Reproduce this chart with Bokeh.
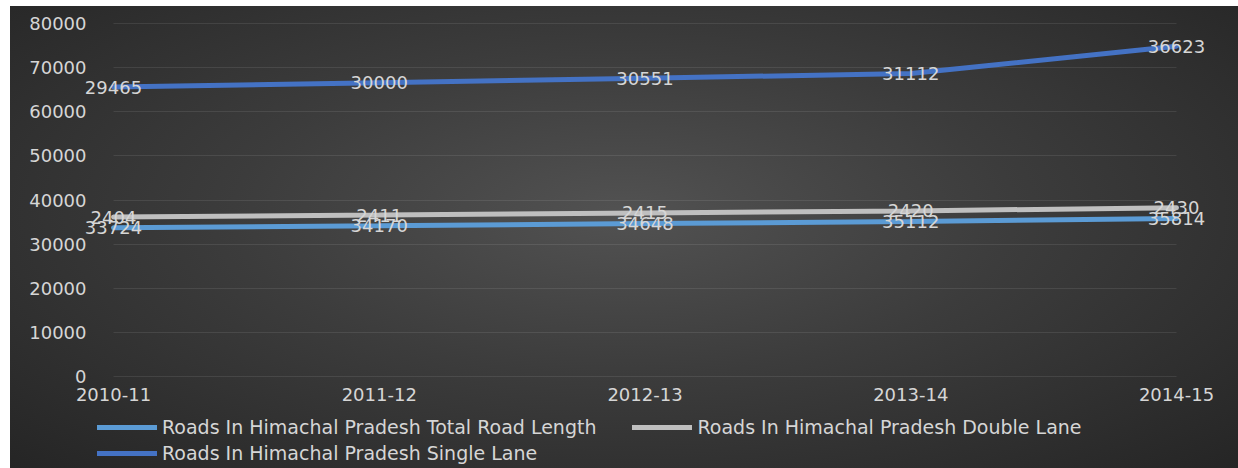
from bokeh.plotting import figure
from bokeh.models import ColumnDataSource, Range1d, FixedTicker, Legend, LegendItem
from bokeh.core.properties import value
from bokeh.embed import file_html
from bokeh.resources import INLINE

years = ["2010-11", "2011-12", "2012-13", "2013-14", "2014-15"]
total_len = [33724, 34170, 34648, 35112, 35814]
double_lane = [2404, 2411, 2415, 2420, 2430]
single_lane = [29465, 30000, 30551, 31112, 36623]
y_ticks = [0, 10000, 20000, 30000, 40000, 50000, 60000, 70000, 80000]

names = ["Roads In Himachal Pradesh Total Road Length",
         "Roads In Himachal Pradesh Double Lane",
         "Roads In Himachal Pradesh Single Lane"]
colors = ["#5B9BD5", "#BFBFBF", "#4472C4"]

xs = list(range(len(years)))
# stacked line chart
s1 = total_len
s2 = [a + b for a, b in zip(s1, double_lane)]
s3 = [a + b for a, b in zip(s2, single_lane)]
series = [(s1, total_len, colors[0]), (s2, double_lane, colors[1]), (s3, single_lane, colors[2])]

FONT = "DejaVu Sans"
TXT = "#D6D6D6"

W, H = 1238, 468
# pixel layout of the plotting area inside the canvas
L, R, T, B = 113, 1176, 23, 376
ppx = (R - L) / (len(years) - 1)
ppy = (B - T) / 80000.0
x_range = Range1d(-L / ppx, (len(years) - 1) + (W - R) / ppx)
y_range = Range1d(-(H - B) / ppy, 80000 + T / ppy)

p = figure(width=W, height=H, output_backend="svg", toolbar_location=None,
           x_range=x_range, y_range=y_range,
           min_border=0, min_border_left=0, min_border_right=0, min_border_top=0, min_border_bottom=0)
p.styles = {
    "background-color": "#ffffff",
    "background-image": "radial-gradient(ellipse at 50% 45%, #525252 0%, #3c3c3c 45%, #252525 100%)",
    "background-position": "10px 6px",
    "background-size": "calc(100% - 10px) calc(100% - 6px)",
    "background-repeat": "no-repeat",
}
p.background_fill_alpha = 0
p.border_fill_alpha = 0
p.outline_line_color = None

p.xaxis.ticker = FixedTicker(ticks=xs)
p.xaxis.major_label_overrides = {i: y for i, y in enumerate(years)}
p.yaxis.ticker = FixedTicker(ticks=y_ticks)
p.xaxis.fixed_location = 0
p.yaxis.fixed_location = 0
for ax in (p.xaxis, p.yaxis):
    ax.axis_line_color = None
    ax.major_tick_line_color = None
    ax.minor_tick_line_color = None
    ax.major_label_text_color = TXT
    ax.major_label_text_font = FONT
    ax.major_label_text_font_size = "18px"
p.yaxis.major_label_standoff = 21
p.xaxis.major_label_standoff = 5
p.xgrid.grid_line_color = None

grid = p.ygrid[0]
if hasattr(grid, "cross_bounds"):
    grid.cross_bounds = (0, len(years) - 1)
    grid.grid_line_color = "#ffffff"
    grid.grid_line_alpha = 0.09
    grid.grid_line_width = 1
else:
    grid.grid_line_color = None
    p.segment(x0=[0] * len(y_ticks), x1=[len(years) - 1] * len(y_ticks), y0=y_ticks, y1=y_ticks,
              line_color="#ffffff", line_alpha=0.09, line_width=1)

rends = []
for ys, raw, c in series:
    src = ColumnDataSource(dict(x=xs, y=ys, lab=[str(v) for v in raw]))
    rends.append(p.line("x", "y", source=src, line_color=c, line_width=5, line_cap="round"))
for ys, raw, c in series:
    src = ColumnDataSource(dict(x=xs, y=ys, lab=[str(v) for v in raw]))
    p.text("x", "y", text="lab", source=src, text_align="center", text_baseline="middle",
           text_color=TXT, text_font=value(FONT), text_font_size="18px")

common = dict(orientation="horizontal", padding=0, margin=0, glyph_width=60, glyph_height=20,
              label_standoff=5, label_text_font=FONT, label_text_font_size="19px",
              label_text_color=TXT, background_fill_alpha=0, border_line_color=None)
leg1 = Legend(items=[LegendItem(label=names[0], renderers=[rends[0]]),
                     LegendItem(label=names[1], renderers=[rends[1]])],
              location=(97, 30), spacing=36, **common)
leg2 = Legend(items=[LegendItem(label=names[2], renderers=[rends[2]])],
              location=(97, 4), spacing=0, **common)
p.add_layout(leg1, "center")
p.add_layout(leg2, "center")

open("out.html", "w").write(file_html(p, INLINE))
